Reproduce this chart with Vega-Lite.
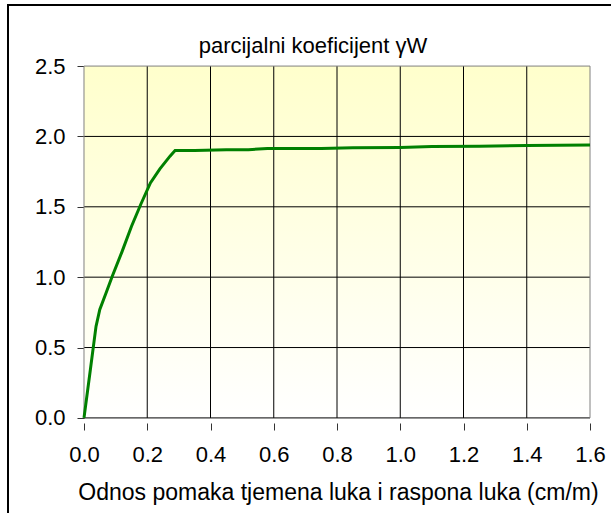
{
  "$schema": "https://vega.github.io/schema/vega-lite/v6.json",
  "width": 610,
  "height": 512,
  "autosize": "none",
  "padding": {"left": 8, "top": 5, "right": 0, "bottom": 0},
  "background": "white",
  "config": {
    "view": {"stroke": "black", "strokeWidth": 2},
    "font": "Liberation Sans"
  },
  "title": {
    "text": "parcijalni koeficijent γW",
    "font": "Liberation Sans",
    "fontSize": 22,
    "fontWeight": "normal",
    "color": "black",
    "anchor": "middle",
    "baseline": "alphabetic",
    "orient": "top",
    "offset": -70
  },
  "datasets": {
    "curve": [
      {"x": 0.0, "y": 0.0},
      {"x": 0.02, "y": 0.34},
      {"x": 0.038, "y": 0.65},
      {"x": 0.05, "y": 0.77},
      {"x": 0.07, "y": 0.89},
      {"x": 0.09, "y": 1.01},
      {"x": 0.12, "y": 1.18},
      {"x": 0.15, "y": 1.36},
      {"x": 0.18, "y": 1.52},
      {"x": 0.21, "y": 1.67},
      {"x": 0.24, "y": 1.77},
      {"x": 0.272, "y": 1.86},
      {"x": 0.288, "y": 1.9},
      {"x": 0.35, "y": 1.9},
      {"x": 0.45, "y": 1.906},
      {"x": 0.52, "y": 1.906},
      {"x": 0.58, "y": 1.915},
      {"x": 0.75, "y": 1.915},
      {"x": 0.85, "y": 1.92},
      {"x": 1.0, "y": 1.922},
      {"x": 1.1, "y": 1.928},
      {"x": 1.25, "y": 1.93},
      {"x": 1.4, "y": 1.935},
      {"x": 1.6, "y": 1.94}
    ],
    "vgrid": [{"v": 0.2}, {"v": 0.4}, {"v": 0.6}, {"v": 0.8}, {"v": 1.0}, {"v": 1.2}, {"v": 1.4}],
    "hgrid": [{"v": 0.0}, {"v": 0.5}, {"v": 1.0}, {"v": 1.5}, {"v": 2.0}],
    "vframe": [{"v": 0.0}, {"v": 1.6}],
    "hframe": [{"v": 2.5}],
    "panel": [{"x0": 0, "x1": 1.6, "y0": 0, "y1": 2.5}]
  },
  "layer": [
    {
      "data": {"name": "panel"},
      "mark": {
        "type": "rect",
        "fill": {
          "gradient": "linear",
          "x1": 0, "y1": 0, "x2": 0, "y2": 1,
          "stops": [
            {"offset": 0, "color": "#FFFFCC"},
            {"offset": 1, "color": "#FFFFFF"}
          ]
        }
      },
      "encoding": {
        "x": {
          "field": "x0", "type": "quantitative",
          "scale": {"domain": [-0.2403, 1.6885], "nice": false, "zero": false},
          "axis": {
            "orient": "bottom",
            "offset": -94,
            "values": [0, 0.2, 0.4, 0.6, 0.8, 1.0, 1.2, 1.4, 1.6],
            "format": ".1f",
            "grid": false,
            "domain": false,
            "ticks": true,
            "tickSize": 7,
            "tickColor": "#333333",
            "labelFont": "Liberation Sans",
            "labelFontSize": 22,
            "labelColor": "black",
            "labelPadding": 14,
            "labelFlush": false,
            "labelOverlap": false,
            "title": "Odnos pomaka tjemena luka i raspona luka (cm/m)",
            "titleFont": "Liberation Sans",
            "titleFontSize": 23,
            "titleFontWeight": "normal",
            "titleColor": "black",
            "titleX": 330,
            "titleY": 76,
            "titleBaseline": "alphabetic",
            "titleAnchor": null,
            "titleAlign": "center"
          }
        },
        "x2": {"field": "x1"},
        "y": {
          "field": "y0", "type": "quantitative",
          "scale": {"domain": [-0.7041, 2.9339], "nice": false, "zero": false},
          "axis": {
            "orient": "left",
            "offset": -76,
            "values": [0, 0.5, 1.0, 1.5, 2.0, 2.5],
            "format": ".1f",
            "grid": false,
            "domain": false,
            "ticks": true,
            "tickSize": 7,
            "tickColor": "#333333",
            "labelFont": "Liberation Sans",
            "labelFontSize": 22,
            "labelColor": "black",
            "labelPadding": 12,
            "labelFlush": false,
            "labelOverlap": false,
            "title": null
          }
        },
        "y2": {"field": "y1"}
      }
    },
    {
      "data": {"name": "vgrid"},
      "mark": {"type": "rule", "stroke": "#000000", "strokeWidth": 1},
      "encoding": {
        "x": {"field": "v", "type": "quantitative"},
        "y": {"datum": 0},
        "y2": {"datum": 2.5}
      }
    },
    {
      "data": {"name": "hgrid"},
      "mark": {"type": "rule", "stroke": "#000000", "strokeWidth": 1},
      "encoding": {
        "y": {"field": "v", "type": "quantitative"},
        "x": {"datum": 0},
        "x2": {"datum": 1.6}
      }
    },
    {
      "data": {"name": "vframe"},
      "mark": {"type": "rule", "stroke": "#808080", "strokeWidth": 1},
      "encoding": {
        "x": {"field": "v", "type": "quantitative"},
        "y": {"datum": 0},
        "y2": {"datum": 2.5}
      }
    },
    {
      "data": {"name": "hframe"},
      "mark": {"type": "rule", "stroke": "#808080", "strokeWidth": 1},
      "encoding": {
        "y": {"field": "v", "type": "quantitative"},
        "x": {"datum": 0},
        "x2": {"datum": 1.6}
      }
    },
    {
      "data": {"name": "curve"},
      "mark": {"type": "line", "stroke": "#008000", "strokeWidth": 3, "interpolate": "linear"},
      "encoding": {
        "x": {"field": "x", "type": "quantitative"},
        "y": {"field": "y", "type": "quantitative"}
      }
    }
  ]
}
